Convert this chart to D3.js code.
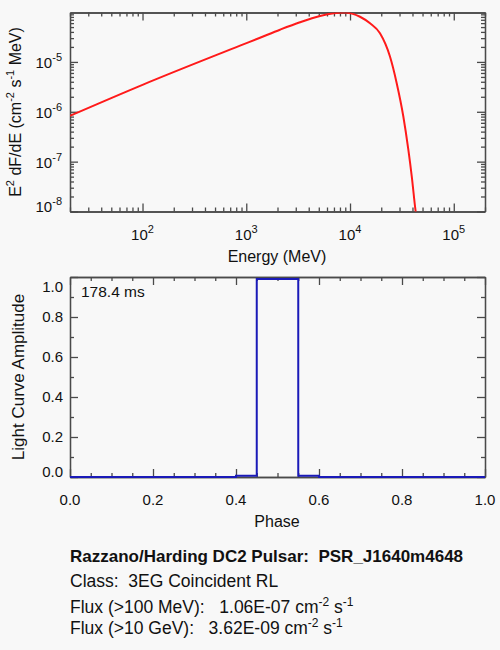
<!DOCTYPE html>
<html>
<head>
<meta charset="utf-8">
<script src="https://cdn.jsdelivr.net/npm/d3@7"></script>
<style>
  body { margin: 0; background: #f8f8f8; }
  svg { display: block; font-family: "Liberation Sans", Arial, Helvetica, sans-serif; }
</style>
</head>
<body>
<svg id="chart" width="500" height="650"></svg>
<script>
// spectrum: energy (MeV) and E^2 dF/dE
var specEnergy = [20, 100, 871, 1357, 2113, 3296, 5140, 6960, 8750, 12480, 15590, 19450, 24270, 28180, 32650, 36480, 39360, 42800, 44500];
var specFlux = [8.3e-7, 3.47e-6, 2.12e-5, 3.06e-5, 4.43e-5, 6.25e-5, 8.32e-5, 9.42e-5, 9.77e-5, 8.05e-5, 5.94e-5, 3.75e-5, 1.28e-5, 3.75e-6, 8.05e-7, 1.74e-7, 5.08e-8, 1.05e-8, 6e-9];

// light curve steps
var phaseEdges = [0, 0.4, 0.45, 0.55, 0.6, 1.0];
var amplitude = [0, 0.006, 0.99, 0.006, 0, 0];

var periodLabel = "178.4 ms";
var phaseTicks = [0, 0.2, 0.4, 0.6, 0.8, 1.0];
var ampTicks = [0, 0.2, 0.4, 0.6, 0.8, 1.0];

var infoTitle = "Razzano/Harding DC2 Pulsar:  PSR_J1640m4648";
var infoClass = "Class:  3EG Coincident RL";
var fluxLabels = ["Flux (>100 MeV):   ", "Flux (>10 GeV):   "];
var fluxValues = ["1.06E-07", "3.62E-09"];

var svg = d3.select("#chart");
var axisColor = "#4a4a4a";

// ---------- spectrum panel ----------
var x1 = d3.scaleLog().domain([20, 2e5]).range([70, 485]);
var y1 = d3.scaleLog().domain([1e-8, 9.8e-5]).range([211.5, 12.5]);

function isDecade(v) {
  var l = Math.log10(v);
  return Math.abs(l - Math.round(l)) < 1e-9;
}

// draw inward ticks on all four sides of a box
function boxAxes(g, xs, ys, xMajor, xMinor, yMajor, yMinor) {
  var x0 = xs.range()[0], xe = xs.range()[1];
  var yb = ys.range()[0], yt = ys.range()[1];
  var sets = [
    [d3.axisBottom(xs), "translate(0," + yb + ")", xMajor, xMinor],
    [d3.axisTop(xs), "translate(0," + yt + ")", xMajor, xMinor],
    [d3.axisLeft(ys), "translate(" + x0 + ",0)", yMajor, yMinor],
    [d3.axisRight(ys), "translate(" + xe + ",0)", yMajor, yMinor]
  ];
  sets.forEach(function (s) {
    [[s[2], -8], [s[3], -4]].forEach(function (t) {
      var ax = s[0].tickValues(t[0]).tickSize(t[1]).tickSizeOuter(0).tickFormat("");
      g.append("g")
        .attr("transform", s[1])
        .attr("color", axisColor)
        .call(ax)
        .selectAll("line, path").attr("stroke-width", 1.3);
    });
  });
}

var specPanel = svg.append("g");
var xt = x1.ticks();
var yt = y1.ticks();
boxAxes(specPanel, x1, y1,
  xt.filter(isDecade), xt.filter(function (d) { return !isDecade(d); }),
  yt.filter(isDecade), yt.filter(function (d) { return !isDecade(d); }));

svg.append("clipPath").attr("id", "clip1")
  .append("rect").attr("x", 70).attr("y", 12.5).attr("width", 415).attr("height", 199);

var specData = specEnergy.map(function (e, i) { return [e, specFlux[i]]; });
specPanel.append("path")
  .datum(specData)
  .attr("clip-path", "url(#clip1)")
  .attr("fill", "none")
  .attr("stroke", "#ff1a1a")
  .attr("stroke-width", 2)
  .attr("d", d3.line()
    .x(function (d) { return x1(d[0]); })
    .y(function (d) { return y1(d[1]); })
    .curve(d3.curveMonotoneX));

// x tick labels 10^n
xt.filter(isDecade).forEach(function (v) {
  var t = specPanel.append("text")
    .attr("x", x1(v)).attr("y", 240)
    .attr("text-anchor", "middle")
    .attr("font-size", 15)
    .attr("fill", "#111");
  t.append("tspan").text("10");
  t.append("tspan").attr("dy", -7).attr("font-size", 11).text(Math.round(Math.log10(v)));
});

// y tick labels 10^-n
yt.filter(isDecade).forEach(function (v) {
  var t = specPanel.append("text")
    .attr("x", 62).attr("y", Math.min(y1(v) + 6, 212))
    .attr("text-anchor", "end")
    .attr("font-size", 15)
    .attr("fill", "#111");
  t.append("tspan").text("10");
  t.append("tspan").attr("dy", -7).attr("font-size", 11).text(Math.round(Math.log10(v)));
});

specPanel.append("text")
  .attr("x", 277).attr("y", 262)
  .attr("text-anchor", "middle")
  .attr("font-size", 16)
  .attr("fill", "#111")
  .text("Energy (MeV)");

var ylab = specPanel.append("text")
  .attr("transform", "translate(21,112) rotate(-90)")
  .attr("text-anchor", "middle")
  .attr("font-size", 16)
  .attr("fill", "#111");
ylab.append("tspan").text("E");
ylab.append("tspan").attr("dy", -7).attr("font-size", 11).text("2");
ylab.append("tspan").attr("dy", 7).text(" dF/dE (cm");
ylab.append("tspan").attr("dy", -7).attr("font-size", 11).text("-2");
ylab.append("tspan").attr("dy", 7).text(" s");
ylab.append("tspan").attr("dy", -7).attr("font-size", 11).text("-1");
ylab.append("tspan").attr("dy", 7).text(" MeV)");

// ---------- light curve panel ----------
var x2 = d3.scaleLinear().domain([0, 1]).range([70, 485]);
var y2 = d3.scaleLinear().domain([0, 1]).range([477, 277]);

var lcPanel = svg.append("g");
boxAxes(lcPanel, x2, y2,
  phaseTicks, d3.range(0.05, 1, 0.05).filter(function (d) { return Math.abs(d * 5 - Math.round(d * 5)) > 1e-6; }),
  ampTicks, [0.1, 0.3, 0.5, 0.7, 0.9]);

var lcData = phaseEdges.map(function (p, i) { return [p, amplitude[i]]; });
lcPanel.append("path")
  .datum(lcData)
  .attr("fill", "none")
  .attr("stroke", "#1a1ab8")
  .attr("stroke-width", 2)
  .attr("d", d3.line()
    .x(function (d) { return x2(d[0]); })
    .y(function (d) { return y2(d[1]); })
    .curve(d3.curveStepAfter));

phaseTicks.forEach(function (v) {
  lcPanel.append("text")
    .attr("x", x2(v)).attr("y", 505)
    .attr("text-anchor", "middle")
    .attr("font-size", 15)
    .attr("fill", "#111")
    .text(d3.format(".1f")(v));
});

ampTicks.forEach(function (v) {
  lcPanel.append("text")
    .attr("x", 63).attr("y", Math.max(292, Math.min(y2(v) + 5, 477)))
    .attr("text-anchor", "end")
    .attr("font-size", 15)
    .attr("fill", "#111")
    .text(d3.format(".1f")(v));
});

lcPanel.append("text")
  .attr("x", 277).attr("y", 527)
  .attr("text-anchor", "middle")
  .attr("font-size", 16)
  .attr("fill", "#111")
  .text("Phase");

lcPanel.append("text")
  .attr("transform", "translate(24,377) rotate(-90)")
  .attr("text-anchor", "middle")
  .attr("font-size", 17)
  .attr("fill", "#111")
  .text("Light Curve Amplitude");

lcPanel.append("text")
  .attr("x", 81).attr("y", 297)
  .attr("font-size", 15.5)
  .attr("fill", "#111")
  .text(periodLabel);

// ---------- info block ----------
var info = svg.append("g").attr("fill", "#111");
info.append("text")
  .attr("xml:space", "preserve")
  .attr("x", 70).attr("y", 562)
  .attr("font-size", 17)
  .attr("font-weight", "bold")
  .text(infoTitle);
info.append("text")
  .attr("xml:space", "preserve")
  .attr("x", 70).attr("y", 587)
  .attr("font-size", 17.5)
  .text(infoClass);

[613, 634].forEach(function (yy, i) {
  var t = info.append("text")
    .attr("xml:space", "preserve")
    .attr("x", 70).attr("y", yy).attr("font-size", 17.5);
  t.append("tspan").text(fluxLabels[i] + fluxValues[i] + " cm");
  t.append("tspan").attr("dy", -7).attr("font-size", 12).text("-2");
  t.append("tspan").attr("dy", 7).text(" s");
  t.append("tspan").attr("dy", -7).attr("font-size", 12).text("-1");
});
</script>
</body>
</html>
